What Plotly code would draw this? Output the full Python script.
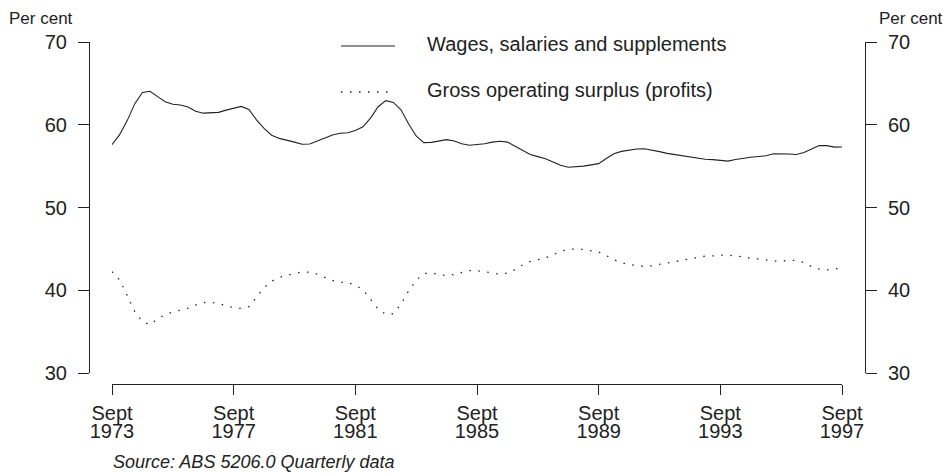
import plotly.graph_objects as go

# Quarterly data, Sept 1973 .. Sept 1997 (per cent)
start_year = 1973.75
wages = [57.6, 58.8, 60.5, 62.55, 63.9, 64.05, 63.4, 62.78, 62.48, 62.38,
         62.15, 61.63, 61.4, 61.43, 61.5, 61.77, 62.03, 62.22, 61.85, 60.6,
         59.57, 58.73, 58.35, 58.15, 57.9, 57.64, 57.68, 58.03, 58.4, 58.75,
         58.98, 59.04, 59.3, 59.75, 60.8, 62.18, 62.91, 62.7, 61.8, 60.12,
         58.65, 57.84, 57.87, 58.06, 58.2, 58.03, 57.7, 57.52, 57.6, 57.7,
         57.9, 58.0, 57.9, 57.4, 56.8, 56.4, 56.15, 55.9, 55.5, 55.1,
         54.86, 54.9, 55.0, 55.15, 55.3, 55.93, 56.5, 56.78, 56.96, 57.07,
         57.1, 56.95, 56.75, 56.54, 56.4, 56.26, 56.1, 55.97, 55.83, 55.78,
         55.7, 55.6, 55.8, 55.96, 56.07, 56.16, 56.25, 56.5, 56.5, 56.46,
         56.4, 56.65, 57.07, 57.48, 57.48, 57.3, 57.32]
profits = [42.25, 41.25, 39.37, 37.4, 36.2, 35.85, 36.52, 37.07, 37.35, 37.55,
           37.84, 38.21, 38.51, 38.55, 38.4, 38.14, 37.9, 37.79, 38.02, 39.15,
           40.3, 41.1, 41.54, 41.8, 42.02, 42.22, 42.17, 41.93, 41.56, 41.19,
           40.95, 40.93, 40.6, 40.05, 38.9, 37.7, 37.1, 37.16, 38.3, 39.9,
           41.2, 42.0, 42.11, 41.88, 41.76, 41.9, 42.15, 42.37, 42.37, 42.23,
           42.07, 41.95, 42.07, 42.48, 43.07, 43.48, 43.7, 43.9, 44.3, 44.7,
           44.93, 45.0, 44.93, 44.79, 44.62, 44.19, 43.7, 43.34, 43.1, 42.98,
           42.88, 42.96, 43.12, 43.3, 43.47, 43.62, 43.75, 43.93, 44.12, 44.15,
           44.25, 44.25, 44.16, 44.03, 43.87, 43.81, 43.67, 43.53, 43.5, 43.62,
           43.6, 43.33, 42.85, 42.55, 42.47, 42.6, 42.65]
x_tick_years = [1973, 1977, 1981, 1985, 1989, 1993, 1997]
x_tick_month = "Sept"
y_ticks = [30, 40, 50, 60, 70]
series_names = ["Wages, salaries and supplements", "Gross operating surplus (profits)"]

quarters = [start_year + 0.25 * i for i in range(len(wages))]
x_tickvals = [y + 0.75 for y in x_tick_years]

INK = "#222222"
FONT = "Liberation Sans, Arial, sans-serif"
DOT = "1.5px,7.5px"

W, H = 948, 475
L, R, T, B = 89, 83, 42, 91
pw, ph = W - L - R, H - T - B

def px(xp):
    return (xp - L) / pw

def py(yp):
    return (H - B - yp) / ph

fig = go.Figure()
fig.add_trace(go.Scatter(x=quarters, y=wages, mode="lines", name=series_names[0],
                         line=dict(color=INK, width=1.1), showlegend=False))
fig.add_trace(go.Scatter(x=quarters, y=profits, mode="lines", name=series_names[1],
                         line=dict(color=INK, width=1.3, dash=DOT), showlegend=False))
# invisible traces to activate the secondary axes
fig.add_trace(go.Scatter(x=[quarters[0]], y=[wages[0]], yaxis="y2", mode="markers",
                         marker=dict(opacity=0), hoverinfo="skip", showlegend=False))
fig.add_trace(go.Scatter(x=[quarters[0]], y=[wages[0]], xaxis="x2", mode="markers",
                         marker=dict(opacity=0), hoverinfo="skip", showlegend=False))

tickfont = dict(family=FONT, size=20, color=INK)
axis_common = dict(showgrid=False, zeroline=False, showline=True, linecolor=INK, linewidth=1,
                   ticks="outside", tickcolor=INK, tickwidth=1, tickfont=tickfont, automargin=False)
xdom = [px(112), px(842)]
ydom = [py(373), 1]

fig.update_layout(
    width=W, height=H,
    margin=dict(l=L, r=R, t=T, b=B),
    paper_bgcolor="white", plot_bgcolor="white",
    xaxis=dict(domain=xdom, range=[1973.75, 1997.75], anchor="free", position=0,
               tickvals=x_tickvals, ticktext=[x_tick_month] * len(x_tick_years),
               ticklen=10, ticklabelstandoff=1, **axis_common),
    xaxis2=dict(domain=xdom, range=[1973.75, 1997.75], anchor="free", position=0, overlaying="x",
                side="bottom", tickvals=x_tickvals, ticktext=[str(y) for y in x_tick_years],
                showgrid=False, zeroline=False, showline=False, ticks="", tickfont=tickfont,
                ticklabelstandoff=33, automargin=False),
    yaxis=dict(domain=ydom, range=[30, 70], anchor="free", position=0,
               tickvals=y_ticks, ticklen=11, ticklabelstandoff=7, **axis_common),
    yaxis2=dict(domain=ydom, range=[30, 70], anchor="free", position=1, side="right",
                overlaying="y", tickvals=y_ticks, ticklen=11, ticklabelstandoff=7, **axis_common),
    showlegend=False,
)

# legend (manual)
legend_rows = [(46, "solid"), (92, DOT)]
for (yy, dash), name in zip(legend_rows, series_names):
    fig.add_shape(type="line", xref="paper", yref="paper", x0=px(341), x1=px(395), y0=py(yy), y1=py(yy),
                  line=dict(color=INK, width=1.1 if dash == "solid" else 1.3, dash=dash))
    fig.add_annotation(xref="paper", yref="paper", x=px(425), y=py(yy - 2), text=name, showarrow=False,
                       xanchor="left", yanchor="middle", font=dict(family=FONT, size=20, color=INK))

fig.add_annotation(xref="paper", yref="paper", x=px(7), y=py(18), text="Per cent", showarrow=False,
                   xanchor="left", yanchor="middle", font=dict(family=FONT, size=17, color=INK))
fig.add_annotation(xref="paper", yref="paper", x=px(945), y=py(18), text="Per cent", showarrow=False,
                   xanchor="right", yanchor="middle", font=dict(family=FONT, size=17, color=INK))
fig.add_annotation(xref="paper", yref="paper", x=px(111), y=py(462), text="<i>Source: ABS 5206.0 Quarterly data</i>",
                   showarrow=False, xanchor="left", yanchor="middle", font=dict(family=FONT, size=18, color=INK))

fig.write_html("out.html", config={"displayModeBar": False},
               post_script="document.body.style.margin='0';document.body.style.overflow='hidden';")
